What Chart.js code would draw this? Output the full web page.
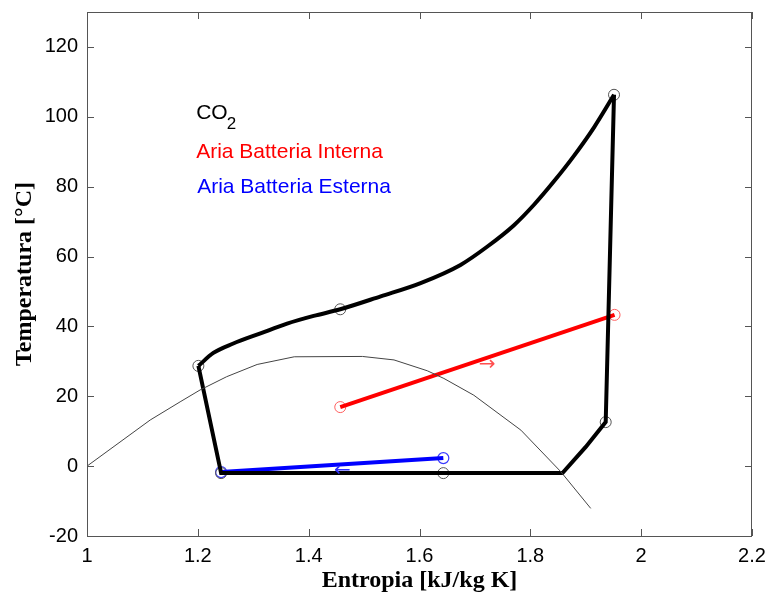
<!DOCTYPE html>
<html>
<head>
<meta charset="utf-8">
<script src="https://cdn.jsdelivr.net/npm/chart.js@4"></script>
<style>
  html, body { margin: 0; padding: 0; background: #fff; }
  #wrap { width: 770px; height: 599px; }
</style>
</head>
<body>
<div id="wrap"><canvas id="chart" width="770" height="599"></canvas></div>
<script>
// CO2 gas cooler (smooth part), entropy kJ/kg K vs temperature C
const coolerS = [1.951, 1.915, 1.879, 1.843, 1.807, 1.770, 1.722, 1.674, 1.602, 1.530, 1.457, 1.409, 1.361, 1.313, 1.264, 1.228, 1.201];
const coolerT = [106.3, 97.0, 88.9, 81.6, 74.9, 68.9, 62.8, 57.6, 52.4, 48.6, 44.9, 43.0, 40.8, 38.0, 35.1, 32.4, 28.7];
// expansion, evaporation, superheat, compression
const cycleS = [1.201, 1.242, 1.643, 1.858, 1.900, 1.936, 1.951];
const cycleT = [28.7, -2.0, -2.0, -2.0, 5.5, 12.6, 106.3];
const cycleMarkS = [1.951, 1.457, 1.201, 1.242, 1.643, 1.936];
const cycleMarkT = [106.3, 44.9, 28.7, -2.0, -2.0, 12.6];

// saturation dome
const domeS = [1.000, 1.114, 1.168, 1.204, 1.252, 1.307, 1.374, 1.497, 1.554, 1.614, 1.644, 1.698, 1.783, 1.855, 1.909];
const domeT = [0.0, 13.2, 18.4, 21.8, 25.6, 29.1, 31.3, 31.4, 30.4, 27.3, 25.1, 20.3, 10.3, -1.6, -12.1];

// air streams
const internaS = [1.457, 1.952];
const internaT = [16.9, 43.3];
const esternaS = [1.242, 1.643];
const esternaT = [-1.7, 2.3];

const xTicks = [1, 1.2, 1.4, 1.6, 1.8, 2, 2.2];
const yTicks = [-20, 0, 20, 40, 60, 80, 100, 120];

const pts = (xs, ys) => xs.map((x, i) => ({ x: x, y: ys[i] }));

const boxPlugin = {
  id: 'box',
  afterDraw(chart) {
    const c = chart.ctx, a = chart.chartArea;
    const xs = chart.scales.x, ys = chart.scales.y;
    c.save();
    c.strokeStyle = '#555';
    c.lineWidth = 1;
    c.strokeRect(a.left + 0.5, a.top + 0.5, a.right - a.left - 1, a.bottom - a.top);
    c.beginPath();
    xTicks.forEach(v => {
      const p = Math.round(xs.getPixelForValue(v)) + 0.5;
      c.moveTo(p, a.bottom); c.lineTo(p, a.bottom - 7);
      c.moveTo(p, a.top); c.lineTo(p, a.top + 7);
    });
    yTicks.forEach(v => {
      const p = Math.round(ys.getPixelForValue(v)) + 0.5;
      c.moveTo(a.left, p); c.lineTo(a.left + 7, p);
      c.moveTo(a.right, p); c.lineTo(a.right - 7, p);
    });
    c.stroke();

    // labels
    c.font = '21px "Liberation Sans", Arial, sans-serif';
    c.textBaseline = 'alphabetic';
    c.textAlign = 'left';
    const lx = xs.getPixelForValue(1.197);
    c.fillStyle = '#000';
    c.fillText('CO', lx, ys.getPixelForValue(99.3));
    const w = c.measureText('CO').width;
    c.font = '17px "Liberation Sans", Arial, sans-serif';
    c.fillText('2', lx + w - 1, ys.getPixelForValue(99.3) + 10);
    c.font = '21px "Liberation Sans", Arial, sans-serif';
    c.fillStyle = '#ff0000';
    c.fillText('Aria Batteria Interna', lx, ys.getPixelForValue(88.1));
    c.fillStyle = '#0000ff';
    c.fillText('Aria Batteria Esterna', lx + 1, ys.getPixelForValue(78.1));

    // flow arrows
    c.textAlign = 'center';
    c.textBaseline = 'middle';
    c.font = '20px "DejaVu Sans", sans-serif';
    c.fillStyle = '#ff5050';
    c.fillText('\u2192', xs.getPixelForValue(1.722), ys.getPixelForValue(29.0));
    c.fillStyle = '#3030ff';
    c.fillText('\u2190', xs.getPixelForValue(1.461), ys.getPixelForValue(-1.2));
    c.restore();
  }
};

const tickFont = { family: '"Liberation Sans", Arial, sans-serif', size: 20 };
const titleFont = { family: '"Liberation Serif", "Times New Roman", serif', size: 24, weight: 'bold' };

new Chart(document.getElementById('chart'), {
  type: 'scatter',
  data: {
    datasets: [
      { data: pts(domeS, domeT), showLine: true, borderColor: '#444', borderWidth: 1, pointRadius: 0 },
      { data: pts(coolerS, coolerT), showLine: true, borderColor: '#000', borderWidth: 4, pointRadius: 0, cubicInterpolationMode: 'monotone' },
      { data: pts(cycleS, cycleT), showLine: true, borderColor: '#000', borderWidth: 4, pointRadius: 0 },
      { data: pts(internaS, internaT), showLine: true, borderColor: '#ff0000', borderWidth: 4, pointRadius: 0 },
      { data: pts(esternaS, esternaT), showLine: true, borderColor: '#0000ff', borderWidth: 4, pointRadius: 0 },
      { data: pts(cycleMarkS, cycleMarkT), showLine: false, pointRadius: 5.5, pointBorderWidth: 1, pointBorderColor: '#555', pointBackgroundColor: 'rgba(0,0,0,0)' },
      { data: pts(internaS, internaT), showLine: false, pointRadius: 5.5, pointBorderWidth: 1, pointBorderColor: '#ff6060', pointBackgroundColor: 'rgba(0,0,0,0)' },
      { data: pts(esternaS, esternaT), showLine: false, pointRadius: 5.5, pointBorderWidth: 1.2, pointBorderColor: '#3a3aff', pointBackgroundColor: 'rgba(0,0,0,0)' }
    ]
  },
  options: {
    responsive: false,
    animation: false,
    layout: { padding: { left: 0, top: 12, right: 18, bottom: 0 } },
    plugins: { legend: { display: false }, tooltip: { enabled: false } },
    scales: {
      x: {
        type: 'linear', min: 1, max: 2.2,
        afterBuildTicks: s => { s.ticks = xTicks.map(v => ({ value: v })); },
        afterFit: s => { s.height = 63; s.paddingLeft = 0; s.paddingRight = 0; },
        grid: { display: false, drawTicks: false },
        border: { display: false },
        ticks: {
          padding: 8, color: '#000', font: tickFont,
          callback: v => String(parseFloat(v.toFixed(2)))
        },
        title: {
          display: true, text: 'Entropia [kJ/kg K]', color: '#000', font: titleFont,
          padding: { top: 0, bottom: 4 }
        }
      },
      y: {
        type: 'linear', min: -20, max: 130,
        afterBuildTicks: s => { s.ticks = yTicks.map(v => ({ value: v })); },
        afterFit: s => { s.width = 87; s.paddingTop = 0; s.paddingBottom = 0; },
        grid: { display: false, drawTicks: false },
        border: { display: false },
        ticks: { padding: 9, color: '#000', font: tickFont },
        title: {
          display: true, text: 'Temperatura [°C]', color: '#000', font: titleFont,
          padding: { top: 10, bottom: 0 }
        }
      }
    }
  },
  plugins: [boxPlugin]
});
</script>
</body>
</html>
